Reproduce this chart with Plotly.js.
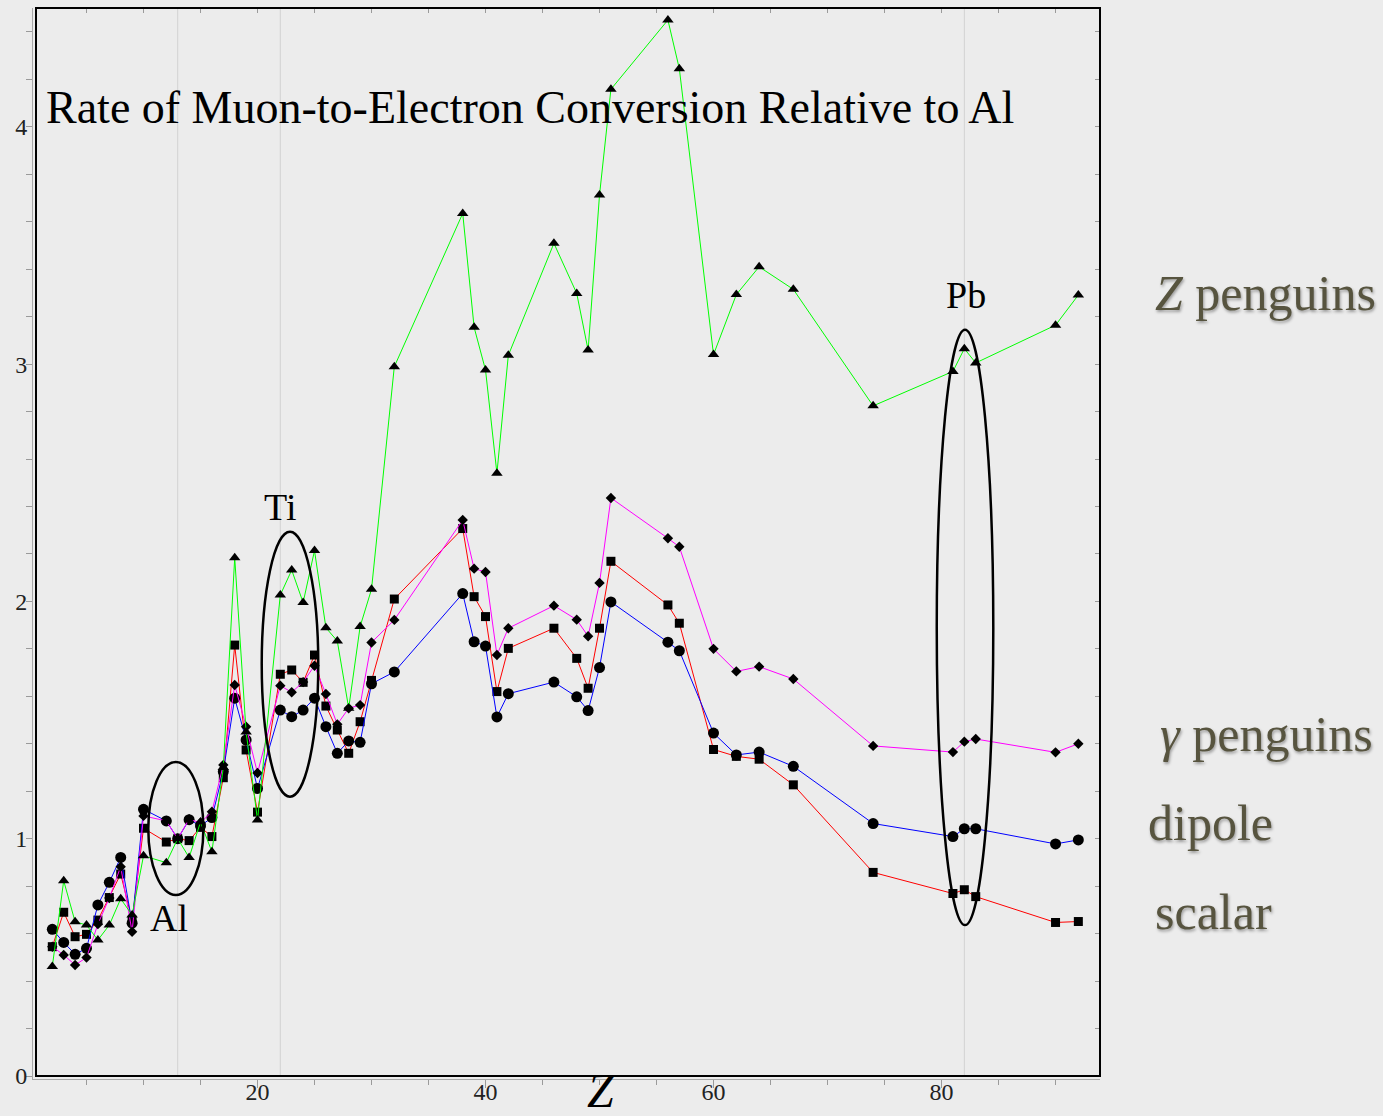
<!DOCTYPE html>
<html><head><meta charset="utf-8">
<script src="https://cdn.plot.ly/plotly-3.0.1.min.js"></script>
<style>html,body{margin:0;padding:0;background:#ececec;} #chart{width:1383px;height:1116px;}</style>
</head><body><div id="chart"></div>
<script>
// Atomic number Z of each nucleus
const Z = [2,3,4,5,6,7,8,9,10,12,13,14,15,16,17,18,19,20,22,23,24,25,26,27,28,29,30,32,38,39,40,41,42,46,48,49,50,51,56,57,60,62,64,67,74,81,82,83,90,92];
// Z penguins (green, triangles)
const zPenguins = [0.461,0.823,0.650,0.636,0.573,0.636,0.747,0.678,0.928,0.899,1.000,0.921,1.070,0.945,1.300,2.184,1.450,1.079,2.027,2.132,1.995,2.214,1.889,1.833,1.550,1.894,2.051,2.989,3.635,3.155,2.975,2.540,3.037,3.509,3.298,3.059,3.713,4.158,4.450,4.245,3.040,3.293,3.410,3.315,2.824,2.969,3.065,3.005,3.164,3.291];
// gamma penguins (magenta, diamonds)
const gammaPenguins = [0.545,0.510,0.468,0.499,0.640,0.750,0.882,0.608,1.096,1.075,1.000,1.082,1.067,1.114,1.311,1.648,1.472,1.277,1.645,1.617,1.660,1.729,1.610,1.482,1.550,1.563,1.827,1.922,2.343,2.138,2.124,1.774,1.887,1.982,1.923,1.853,2.078,2.436,2.266,2.230,1.800,1.705,1.725,1.673,1.391,1.365,1.409,1.420,1.364,1.400];
// dipole (blue, circles)
const dipole = [0.618,0.563,0.513,0.538,0.721,0.816,0.921,0.644,1.124,1.075,1.000,1.080,1.054,1.089,1.283,1.592,1.416,1.212,1.542,1.514,1.542,1.592,1.472,1.360,1.412,1.406,1.653,1.703,2.033,1.830,1.812,1.513,1.611,1.660,1.598,1.540,1.721,1.998,1.828,1.792,1.445,1.353,1.365,1.305,1.064,1.009,1.042,1.042,0.978,0.995];
// scalar (red, squares)
const scalar = [0.545,0.690,0.587,0.597,0.657,0.752,0.851,0.657,1.044,0.986,1.000,0.992,1.048,1.009,1.257,1.816,1.374,1.112,1.693,1.711,1.659,1.774,1.559,1.458,1.360,1.493,1.667,2.010,2.307,2.020,1.936,1.620,1.802,1.887,1.760,1.634,1.887,2.169,1.985,1.908,1.376,1.347,1.335,1.227,0.858,0.769,0.785,0.756,0.647,0.651];

const seriesLabels = ['<i>Z</i> penguins', '<i>γ</i> penguins', 'dipole', 'scalar'];
const highlightZ = [13, 22, 82];
const highlightNames = ['Al', 'Ti', 'Pb'];
const titleText = 'Rate of Muon-to-Electron Conversion Relative to Al';

const W = 1383, H = 1116, L = 33, R = 1100, T = 8, B = 1079;
const px = x => (x - L) / (R - L);
const py = y => (B - y) / (B - T);
const serif = '"Liberation Serif", "Times New Roman", serif';
const xr = [0.307, 93.9], yr = [-0.0126, 4.5006];

function series(y, color, symbol, size) {
  return {x: Z, y: y, type: 'scatter', mode: 'lines+markers', showlegend: false,
    line: {color: color, width: 1}, marker: {color: '#000', symbol: symbol, size: size}, hoverinfo: 'x+y'};
}
const traces = [
  series(scalar, '#ff0000', 'square', 9),
  series(dipole, '#0000ff', 'circle', 11),
  series(gammaPenguins, '#ff00ff', 'diamond', 8),
  series(zPenguins, '#00ff00', 'triangle-up', 10),
  {x: [50], y: [1], xaxis: 'x2', yaxis: 'y2', mode: 'markers', marker: {opacity: 0}, hoverinfo: 'skip', showlegend: false}
];

const shapes = [];
highlightZ.forEach(z => shapes.push({type: 'line', xref: 'x', yref: 'paper', x0: z, x1: z, y0: py(1076), y1: 1,
  line: {color: '#d2d2d2', width: 1}, layer: 'below'}));
shapes.push({type: 'rect', xref: 'paper', yref: 'paper', x0: px(36), x1: 1, y0: py(1076), y1: 1, line: {color: '#000', width: 2}});
const ellipses = [[10.42, 15.25, 0.763, 1.323], [20.37, 25.33, 1.177, 2.294], [79.58, 84.54, 0.636, 3.145]];
ellipses.forEach(e => shapes.push({type: 'circle', xref: 'x', yref: 'y', x0: e[0], x1: e[1], y0: e[2], y1: e[3], line: {color: '#000', width: 2.5}}));

const labelFont = {family: serif, size: 50, color: '#57543f', shadow: '1px 2px 3px rgba(0,0,0,0.35)'};
function ann(text, x, y, xa, font) {
  return {text: text, xref: 'paper', yref: 'paper', x: px(x), y: py(y), xanchor: xa, yanchor: 'middle', showarrow: false, font: font};
}
const markFont = {family: serif, size: 38, color: '#000'};
const annotations = [
  ann(titleText, 44, 107, 'left', {family: serif, size: 46, color: '#000'}),
  ann(highlightNames[0], 169, 918, 'center', markFont),
  ann(highlightNames[1], 280, 507, 'center', markFont),
  ann(highlightNames[2], 966, 295, 'center', markFont),
  ann('<i>Z</i>', 601, 1090, 'center', {family: serif, size: 48, color: '#000'}),
  ann(seriesLabels[0], 1153, 293, 'left', labelFont),
  ann(seriesLabels[1], 1158, 734, 'left', labelFont),
  ann(seriesLabels[2], 1146, 823, 'left', labelFont),
  ann(seriesLabels[3], 1153, 912, 'left', labelFont)
];

const tickFont = {family: serif, size: 24, color: '#222'};
const layout = {
  width: W, height: H, margin: {l: L, r: W - R, t: T, b: H - B, pad: 0},
  paper_bgcolor: '#ececec', plot_bgcolor: '#ececec',
  xaxis: {range: xr, dtick: 20, tick0: 0, ticks: 'outside', ticklen: 8, tickcolor: '#9a9a9a', tickwidth: 1,
    showline: true, linecolor: '#a8a8a8', linewidth: 1, showgrid: false, zeroline: false, tickfont: tickFont,
    ticklabelstandoff: -17,
    minor: {dtick: 5, ticklen: 5, tickcolor: '#9a9a9a', showgrid: false}},
  yaxis: {range: yr, dtick: 1, tick0: 0, ticks: 'outside', ticklen: 6, tickcolor: '#9a9a9a', tickwidth: 1,
    showline: true, linecolor: '#a8a8a8', linewidth: 1, showgrid: false, zeroline: false, tickfont: tickFont,
    ticklabelstandoff: -6,
    minor: {dtick: 0.2, ticklen: 6, tickcolor: '#9a9a9a', showgrid: false}},
  xaxis2: {range: xr, overlaying: 'x', side: 'top', anchor: 'y2', dtick: 5, tick0: 0, ticks: 'inside', ticklen: 5,
    tickcolor: '#9a9a9a', showticklabels: false, showgrid: false, zeroline: false, showline: false},
  yaxis2: {range: yr, overlaying: 'y', side: 'right', anchor: 'x2', dtick: 0.2, tick0: 0, ticks: 'inside', ticklen: 5,
    tickcolor: '#9a9a9a', showticklabels: false, showgrid: false, zeroline: false, showline: false},
  shapes: shapes, annotations: annotations, showlegend: false
};
Plotly.newPlot('chart', traces, layout, {displayModeBar: false, staticPlot: true});
</script></body></html>
